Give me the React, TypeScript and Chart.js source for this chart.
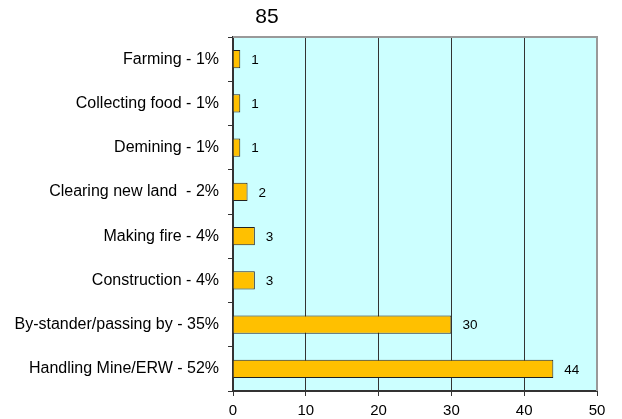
import React, { useEffect, useRef } from "react";
import { Chart, registerables } from "chart.js";

Chart.register(...registerables);

const categories = [
  "Farming - 1%",
  "Collecting food - 1%",
  "Demining - 1%",
  "Clearing new land  - 2%",
  "Making fire - 4%",
  "Construction - 4%",
  "By-stander/passing by - 35%",
  "Handling Mine/ERW - 52%",
];
const values = [1, 1, 1, 2, 3, 3, 30, 44];
const titleText = "85";
const xTicks = [0, 10, 20, 30, 40, 50];

const FONT = "Arial, 'Liberation Sans', sans-serif";

export default function App() {
  const ref = useRef<HTMLCanvasElement | null>(null);

  useEffect(() => {
    document.body.style.margin = "0";
    const canvas = ref.current!;
    const bgPlugin = {
      id: "plotBg",
      beforeDraw(chart: any) {
        const { ctx, chartArea: a } = chart;
        ctx.save();
        ctx.fillStyle = "#CCFFFF";
        ctx.fillRect(a.left, a.top, a.right - a.left, a.bottom - a.top);
        ctx.restore();
      },
      afterDraw(chart: any) {
        const { ctx, chartArea: a } = chart;
        ctx.save();
        ctx.strokeStyle = "#999999";
        ctx.lineWidth = 2;
        ctx.beginPath();
        ctx.moveTo(a.left, a.top);
        ctx.lineTo(a.right, a.top);
        ctx.lineTo(a.right, a.bottom);
        ctx.stroke();
        // title
        ctx.fillStyle = "#000";
        ctx.font = `21px ${FONT}`;
        ctx.textAlign = "center";
        ctx.textBaseline = "middle";
        ctx.fillText(titleText, a.left + 34, 17);
        // data labels
        const meta = chart.getDatasetMeta(0);
        ctx.font = `13.5px ${FONT}`;
        ctx.textAlign = "left";
        ctx.fillStyle = "#000";
        meta.data.forEach((bar: any, i: number) => {
          ctx.fillText(String(values[i]), bar.x + 11, bar.y + 1);
        });
        ctx.restore();
      },
    };

    const chart = new Chart(canvas, {
      type: "bar",
      data: {
        labels: categories,
        datasets: [
          {
            data: values,
            backgroundColor: "#FFC000",
            borderColor: "#222222",
            borderWidth: 1,
            categoryPercentage: 1,
            barPercentage: 0.41,
          },
        ],
      },
      options: {
        indexAxis: "y",
        animation: false,
        responsive: false,
        devicePixelRatio: 1,
        layout: { padding: { top: 37, right: 25, left: 0, bottom: 0 } },
        plugins: {
          legend: { display: false },
          title: { display: false },
          tooltip: { enabled: false },
        },
        scales: {
          x: {
            min: 0,
            max: 50,
            afterBuildTicks(scale: any) {
              scale.ticks = xTicks.map((v) => ({ value: v }));
            },
            afterFit(scale: any) {
              scale.height = 28;
            },
            grid: {
              color: "#333333",
              lineWidth: 1,
              drawOnChartArea: true,
              drawTicks: true,
              tickLength: 5,
              tickColor: "#333333",
            },
            border: { display: true, color: "#333333", width: 2 },
            ticks: {
              color: "#000",
              font: { family: FONT, size: 15 },
              padding: 6,
              maxRotation: 0,
            },
          },
          y: {
            afterFit(scale: any) {
              scale.width = 233;
            },
            grid: {
              offset: true,
              drawOnChartArea: false,
              drawTicks: true,
              tickLength: 5,
              tickColor: "#333333",
            },
            border: { display: true, color: "#333333", width: 2 },
            ticks: {
              color: "#000",
              font: { family: FONT, size: 16 },
              padding: 9,
              autoSkip: false,
            },
          },
        },
      },
      plugins: [bgPlugin],
    });
    return () => chart.destroy();
  }, []);

  return <canvas ref={ref} width={622} height={419} style={{ display: "block" }} />;
}
